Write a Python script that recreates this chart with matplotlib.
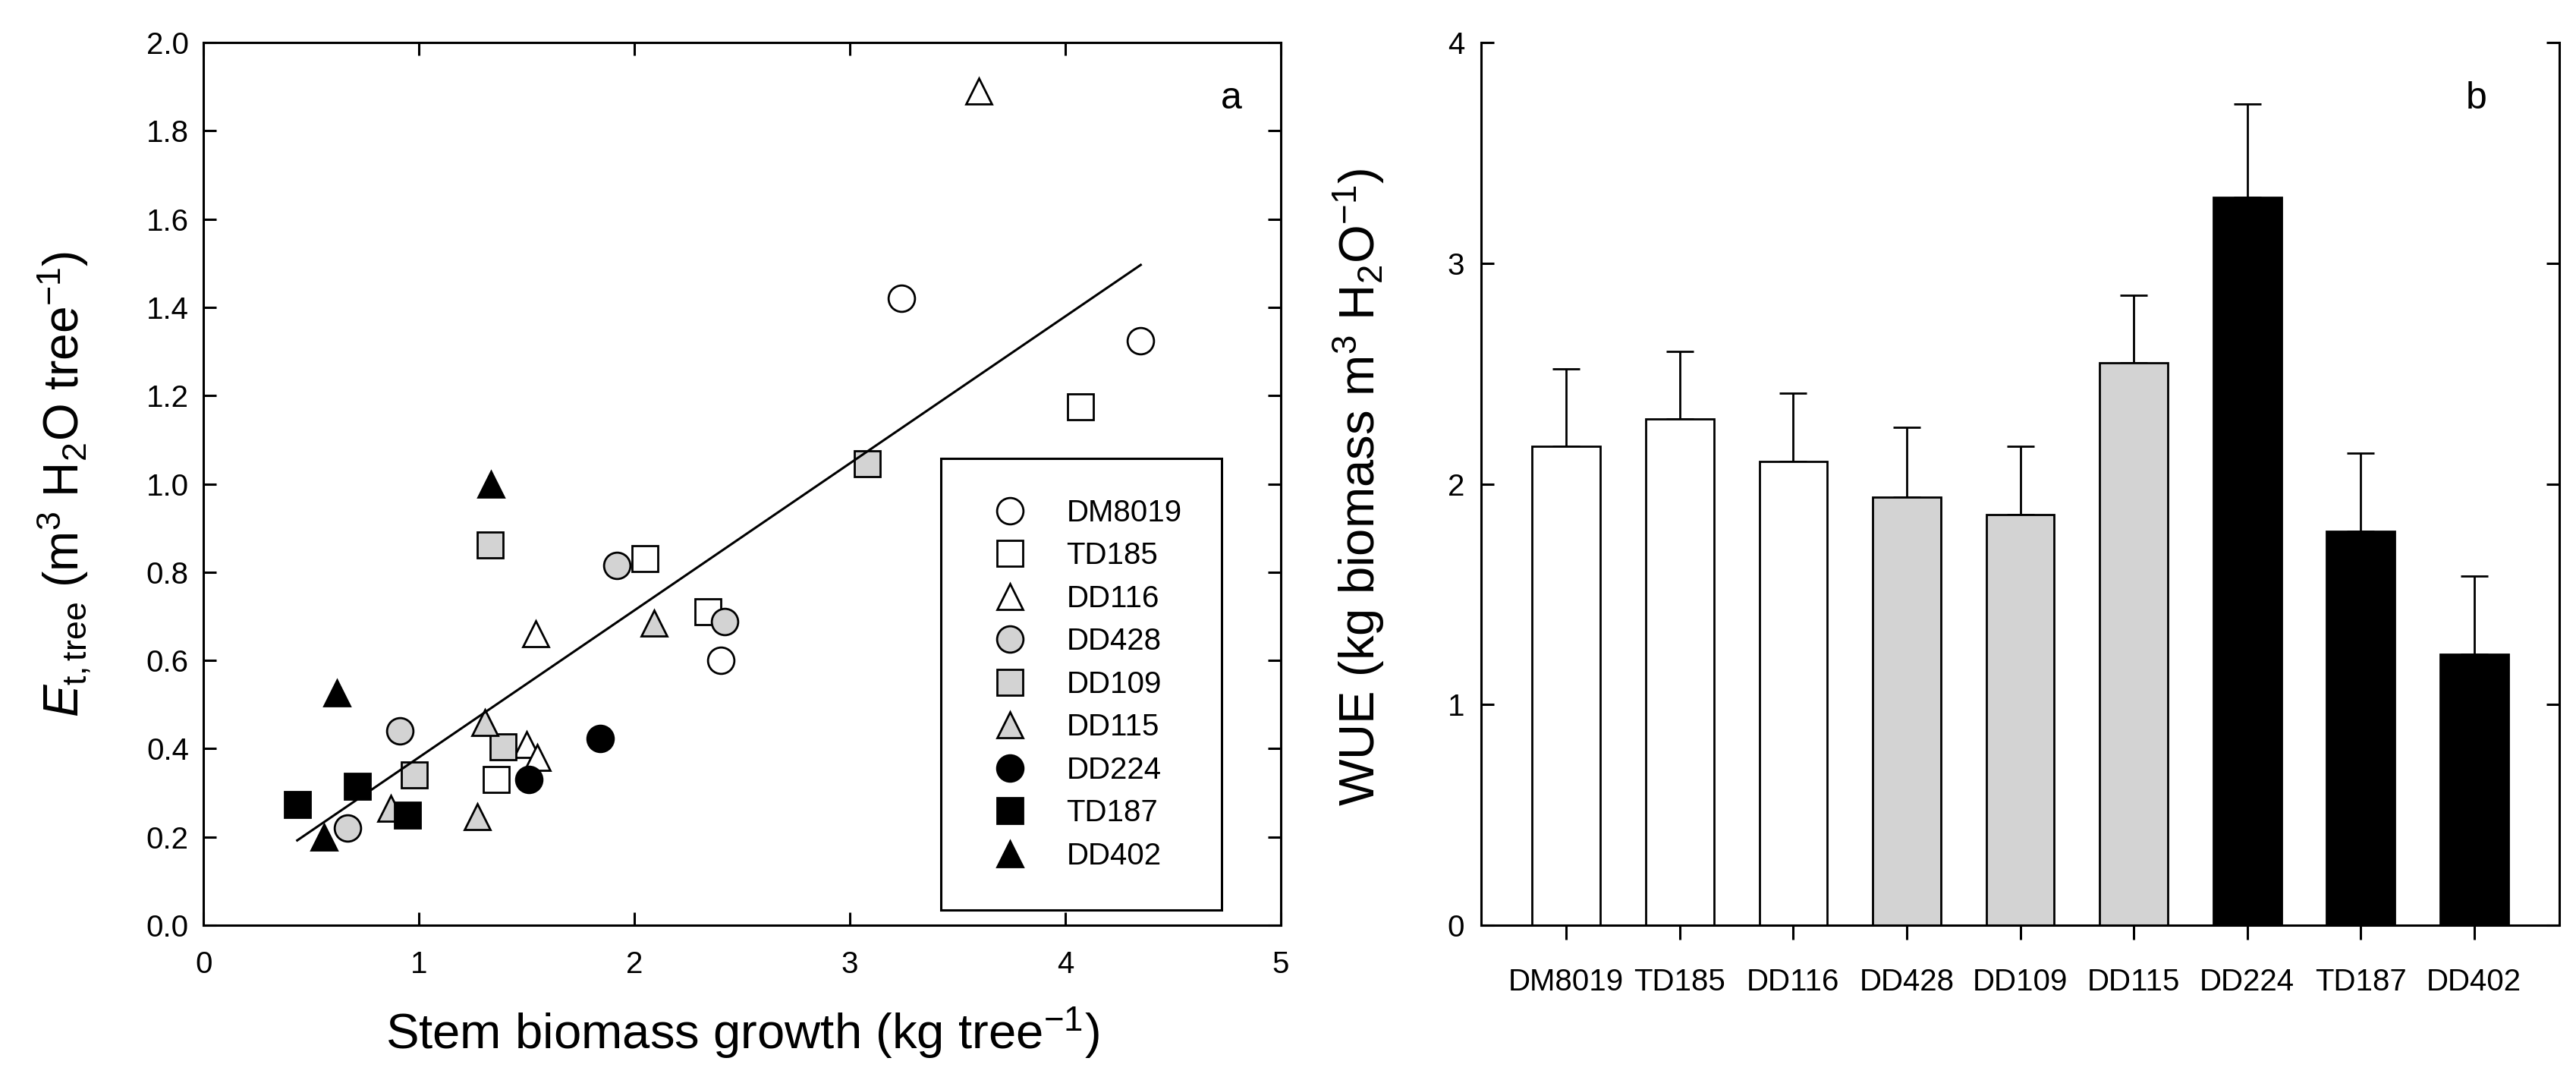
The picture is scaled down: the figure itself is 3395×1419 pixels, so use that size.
import numpy as np
import matplotlib as mpl
mpl.use('Agg')
import matplotlib.pyplot as plt

mpl.rcParams['font.family'] = 'Liberation Sans'
mpl.rcParams['mathtext.fontset'] = 'custom'
mpl.rcParams['mathtext.rm'] = 'Liberation Sans'
mpl.rcParams['mathtext.it'] = 'Liberation Sans:italic'
mpl.rcParams['font.size'] = 14.5

# clones, in legend / bar order
clones = ['DM8019', 'TD185', 'DD116', 'DD428', 'DD109', 'DD115', 'DD224', 'TD187', 'DD402']
fills = ['white', 'white', 'white', '#d3d3d3', '#d3d3d3', '#d3d3d3', 'black', 'black', 'black']
markers = ['o', 's', '^', 'o', 's', '^', 'o', 's', '^']

# panel a: stem biomass growth (kg/tree) vs transpiration (m3 H2O/tree), per tree
growth = {
    'DM8019': [2.40, 3.24, 4.35],
    'TD185': [1.36, 2.05, 2.34, 4.07],
    'DD116': [1.50, 1.55, 1.54, 3.60],
    'DD428': [0.67, 0.91, 1.92, 2.42],
    'DD109': [1.33, 3.08, 1.39, 0.98],
    'DD115': [2.09, 1.305, 0.87, 1.27],
    'DD224': [1.84, 1.51],
    'TD187': [0.435, 0.715, 0.946],
    'DD402': [1.335, 0.62, 0.56],
}
transp = {
    'DM8019': [0.60, 1.42, 1.325],
    'TD185': [0.33, 0.83, 0.71, 1.175],
    'DD116': [0.41, 0.38, 0.66, 1.89],
    'DD428': [0.22, 0.44, 0.815, 0.688],
    'DD109': [0.862, 1.046, 0.404, 0.341],
    'DD115': [0.685, 0.46, 0.265, 0.246],
    'DD224': [0.423, 0.33],
    'TD187': [0.273, 0.315, 0.25],
    'DD402': [1.00, 0.527, 0.20],
}

# panel b: water use efficiency per clone, mean and error
wue = [2.17, 2.295, 2.10, 1.94, 1.86, 2.548, 3.30, 1.784, 1.228]
wue_err = [0.35, 0.305, 0.31, 0.315, 0.31, 0.308, 0.423, 0.355, 0.353]

fig = plt.figure(figsize=(16.975, 7.095), dpi=200)
ax1 = fig.add_axes([0.0790, 0.1409, 0.4182, 0.8196])
ax2 = fig.add_axes([0.5750, 0.1409, 0.4185, 0.8196])

# ---- panel a
for c, f, m in zip(clones, fills, markers):
    ax1.plot(growth[c], transp[c], linestyle='none', marker=m, markersize=12.5,
             markerfacecolor=f, markeredgecolor='black', markeredgewidth=1.0,
             label=c)

# linear fit over all trees
allx = np.concatenate([growth[c] for c in clones])
ally = np.concatenate([transp[c] for c in clones])
slope, icpt = np.polyfit(allx, ally, 1)
xl = np.array([allx.min(), allx.max()])
ax1.plot(xl, icpt + slope * xl, color='black', lw=1.1)

ax1.set_xlim(0, 5)
ax1.set_ylim(0, 2.0)
ax1.set_xticks(range(6))
yt = np.arange(0, 2.01, 0.2)
ax1.set_yticks(yt)
ax1.set_yticklabels([f'{v:.1f}' for v in yt])
ax1.tick_params(direction='in', length=6, width=1.1, top=True, right=True)
ax1.tick_params(axis='x', pad=12)
ax1.tick_params(axis='y', pad=7)
for s in ax1.spines.values():
    s.set_linewidth(1.1)

ax1.set_xlabel('Stem biomass growth (kg tree$^{-1}$)', fontsize=23.5, va='center')
ax1.xaxis.set_label_coords(0.5, -0.122)
ax1.set_ylabel(r'$\mathit{E}_{\rm t,tree}$ (m$^3$ H$_2$O tree$^{-1}$)', fontsize=23, va='center')
ax1.yaxis.set_label_coords(-0.130, 0.5)
ax1.text(0.954, 0.936, 'a', transform=ax1.transAxes, fontsize=18, ha='center', va='center')

leg = ax1.legend(loc='lower right', bbox_to_anchor=(0.945, 0.017), numpoints=1,
                 fancybox=False, framealpha=1, edgecolor='black', borderpad=1.3,
                 labelspacing=0.46, handlelength=1.9, handletextpad=0.9,
                 borderaxespad=0, fontsize=14.5)
leg.get_frame().set_linewidth(1.1)

# ---- panel b
pos = np.arange(len(clones))
ax2.bar(pos, wue, width=0.6, color=fills, edgecolor='black', linewidth=1.0, zorder=2)
ax2.errorbar(pos, wue, yerr=[np.zeros(len(wue)), wue_err], fmt='none', ecolor='black',
             elinewidth=1.0, capsize=6.5, capthick=1.0, zorder=1)
ax2.set_xlim(-0.75, 8.75)
ax2.set_ylim(0, 4)
ax2.set_yticks(range(5))
ax2.set_xticks(pos)
ax2.set_xticklabels(clones, fontsize=14.5)
ax2.spines['top'].set_visible(False)
for s in ax2.spines.values():
    s.set_linewidth(1.1)
ax2.tick_params(axis='y', direction='in', length=6, width=1.1, right=True, pad=8)
ax2.tick_params(axis='x', direction='out', length=7, width=1.1, pad=13)
ax2.set_ylabel('WUE (kg biomass m$^3$ H$_2$O$^{-1}$)', fontsize=23.5, va='center')
ax2.yaxis.set_label_coords(-0.114, 0.496)
ax2.text(0.923, 0.936, 'b', transform=ax2.transAxes, fontsize=18, ha='center', va='center')

fig.savefig('out.png', dpi=200)
